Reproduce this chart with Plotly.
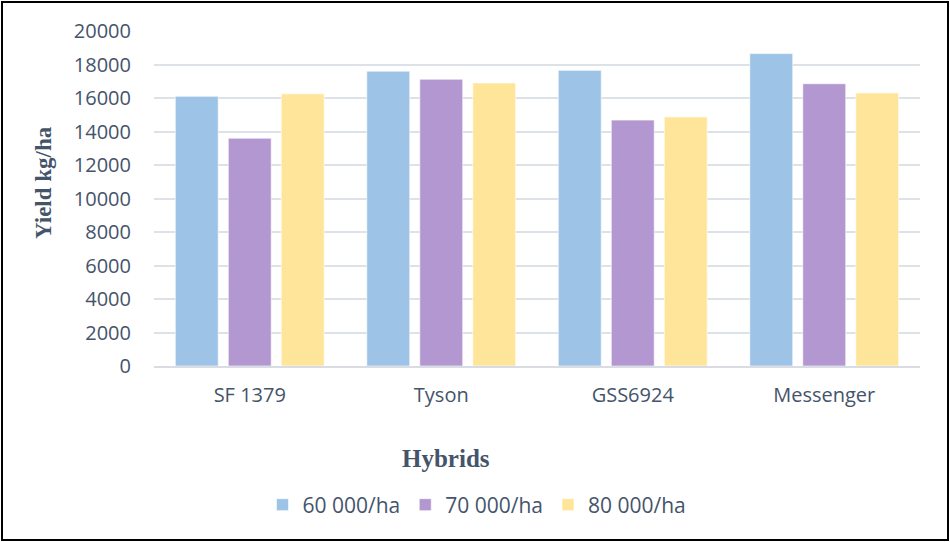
import plotly.graph_objects as go

hybrids = ["SF 1379", "Tyson", "GSS6924", "Messenger"]
d60 = [16100, 17600, 17650, 18650]
d70 = [13600, 17120, 14680, 16850]
d80 = [16250, 16900, 14870, 16300]
series_names = ["60 000/ha", "70 000/ha", "80 000/ha"]
colors = ["#9DC3E6", "#B297D0", "#FFE599"]
y_ticks = [0, 2000, 4000, 6000, 8000, 10000, 12000, 14000, 16000, 18000, 20000]

W, H = 950, 542
L, R, T, B = 154, 30, 31, 176
pw, ph = W - L - R, H - T - B
txt = "#44546A"
sans = "Open Sans"

fig = go.Figure()
for name, vals, c in zip(series_names, [d60, d70, d80], colors):
    fig.add_trace(go.Bar(x=hybrids, y=vals, name=name,
                         marker=dict(color=c, line=dict(width=1, color="rgba(255,255,255,0.6)"))))

fig.update_layout(
    width=W, height=H,
    margin=dict(l=L, r=R, t=T, b=B),
    paper_bgcolor="white", plot_bgcolor="white",
    barmode="group", bargap=0.17, bargroupgap=0.19,
    font=dict(family=sans, size=20, color=txt),
    showlegend=True,
    legend=dict(orientation="h", x=(477 - L) / pw, xanchor="center",
                y=(H - B - 505) / ph, yanchor="middle",
                font=dict(family=sans, size=21, color=txt),
                traceorder="normal"),
    xaxis=dict(showgrid=False, showline=True, linecolor="#D9DDE3", linewidth=1.5,
               ticks="", ticklabelstandoff=10,
               tickfont=dict(family=sans, size=20, color=txt)),
    yaxis=dict(range=[0, 20000], tickvals=y_ticks, tickformat="d",
               showgrid=True, gridcolor="#DDE1E8", gridwidth=1.5,
               zeroline=False, showline=False, ticks="", ticklabelstandoff=22,
               tickfont=dict(family=sans, size=20, color=txt)),
    annotations=[
        dict(text="<b>Yield kg/ha</b>", xref="paper", yref="paper",
             x=(43 - L) / pw, y=(H - B - 183) / ph, textangle=-90, showarrow=False,
             xanchor="center", yanchor="middle",
             font=dict(family="Liberation Serif", size=23, color=txt)),
        dict(text="<b>Hybrids</b>", xref="paper", yref="paper",
             x=(446 - L) / pw, y=(H - B - 459) / ph, showarrow=False,
             xanchor="center", yanchor="middle",
             font=dict(family="Liberation Serif", size=25, color=txt)),
    ],
    shapes=[dict(type="rect", xref="paper", yref="paper",
                 x0=(2 - L) / pw, x1=(948 - L) / pw,
                 y0=(H - B - 540) / ph, y1=(H - B - 2) / ph,
                 line=dict(color="black", width=2), fillcolor="rgba(0,0,0,0)", layer="above")],
)

fig.write_html("out.html", config={"displayModeBar": False},
               post_script="document.body.style.margin='0';")
